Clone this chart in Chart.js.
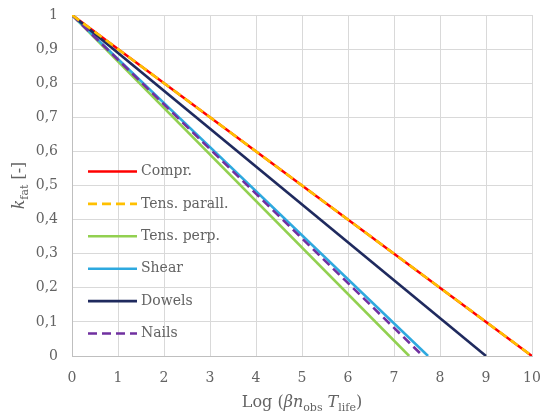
<!DOCTYPE html>
<html><head><meta charset="utf-8">
<script src="https://cdn.jsdelivr.net/npm/chart.js@4.4.0/dist/chart.umd.min.js"></script>
<style>html,body{margin:0;padding:0;background:#fff}#wrap{width:544px;height:416px}</style>
</head><body><div id="wrap"><canvas id="c" width="544" height="416"></canvas></div>
<script>
const seriesNames = ['Compr.', 'Tens. parall.', 'Tens. perp.', 'Shear', 'Dowels', 'Nails'];
const comprX = [0, 10];     const comprY = [1, 0];
const tensParX = [0, 10];   const tensParY = [1, 0];
const tensPerpX = [0, 7.33]; const tensPerpY = [1, 0];
const shearX = [0, 7.74];   const shearY = [1, 0];
const dowelsX = [0, 9.0];   const dowelsY = [1, 0];
const nailsX = [0, 7.63];   const nailsY = [1, 0];
const xTicks = [0,1,2,3,4,5,6,7,8,9,10];
const yTicks = [0,0.1,0.2,0.3,0.4,0.5,0.6,0.7,0.8,0.9,1];

const colors = ['#FF0000', '#FFC000', '#92D050', '#2EA9DF', '#1F2A5E', '#7030A0'];
const dashes = [[], [9,5], [], [], [], [9,5]];
const xs = [comprX, tensParX, tensPerpX, shearX, dowelsX, nailsX];
const ys = [comprY, tensParY, tensPerpY, shearY, dowelsY, nailsY];
const order = [0,2,3,4,5,1];

const FONT = 'DejaVu Serif';
const GRAY = '#636363';

const datasets = seriesNames.map((n, i) => ({
  label: n,
  data: xs[i].map((x, k) => ({x: x, y: ys[i][k]})),
  borderColor: colors[i],
  backgroundColor: colors[i],
  borderWidth: 2.6,
  borderDash: dashes[i],
  showLine: true,
  pointRadius: 0,
  order: -order.indexOf(i),
  borderCapStyle: 'butt'
}));

const drawSub = (ctx, parts, x, y, align) => {
  const size = 16, subSize = 11;
  let w = 0;
  parts.forEach(p => {
    ctx.font = (p.italic ? 'italic ' : '') + (p.sub ? subSize : size) + 'px ' + FONT;
    p.w = ctx.measureText(p.t).width; w += p.w;
  });
  let cx = align === 'center' ? x - w / 2 : x;
  parts.forEach(p => {
    ctx.font = (p.italic ? 'italic ' : '') + (p.sub ? subSize : size) + 'px ' + FONT;
    ctx.fillText(p.t, cx, y + (p.sub ? 4 : 0));
    cx += p.w;
  });
};

const customPlugin = {
  id: 'custom',
  afterDraw(chart) {
    const ctx = chart.ctx;
    const ca = chart.chartArea;
    ctx.save();
    ctx.fillStyle = GRAY;
    ctx.textBaseline = 'alphabetic';
    ctx.textAlign = 'left';
    drawSub(ctx, [
      {t: 'Log ('}, {t: 'βn', italic: true}, {t: 'obs', sub: true}, {t: ' '},
      {t: 'T', italic: true}, {t: 'life', sub: true}, {t: ')'}
    ], (ca.left + ca.right) / 2, 407, 'center');
    ctx.translate(24, (ca.top + ca.bottom) / 2);
    ctx.rotate(-Math.PI / 2);
    drawSub(ctx, [{t: 'k', italic: true}, {t: 'fat', sub: true}, {t: ' [-]'}], 0, 0, 'center');
    ctx.restore();
    ctx.save();
    const x0 = 88, x1 = 137, tx = 141;
    let y = 171.5;
    seriesNames.forEach((n, i) => {
      ctx.beginPath();
      ctx.strokeStyle = colors[i];
      ctx.lineWidth = 2.6;
      ctx.setLineDash(dashes[i]);
      ctx.moveTo(x0, y); ctx.lineTo(x1, y); ctx.stroke();
      ctx.setLineDash([]);
      ctx.fillStyle = GRAY;
      ctx.font = '14px ' + FONT;
      ctx.textBaseline = 'middle';
      ctx.fillText(n, tx, y);
      y += 32.4;
    });
    ctx.restore();
  }
};

new Chart(document.getElementById('c'), {
  type: 'scatter',
  data: { datasets },
  options: {
    responsive: false,
    animation: false,
    layout: { padding: { top: 15, right: 12, left: 0, bottom: 0 } },
    plugins: { legend: { display: false }, tooltip: { enabled: false } },
    scales: {
      x: {
        type: 'linear', min: 0, max: 10,
        afterBuildTicks: s => { s.ticks = xTicks.map(v => ({value: v})); },
        afterFit: s => { s.height = 60; s.paddingLeft = 0; s.paddingRight = 0; },
        grid: { color: '#D9D9D9', lineWidth: 1, drawTicks: false },
        border: { color: '#BFBFBF', width: 1 },
        ticks: { color: GRAY, font: { family: FONT, size: 14 }, padding: 14, maxRotation: 0 }
      },
      y: {
        type: 'linear', min: 0, max: 1,
        afterBuildTicks: s => { s.ticks = yTicks.map(v => ({value: v})); },
        afterFit: s => { s.width = 72; s.paddingTop = 0; s.paddingBottom = 0; },
        grid: { color: '#D9D9D9', lineWidth: 1, drawTicks: false },
        border: { color: '#BFBFBF', width: 1 },
        ticks: { color: GRAY, font: { family: FONT, size: 14 }, padding: 14,
          callback: v => (Math.round(v * 10) / 10).toString().replace('.', ',') }
      }
    }
  },
  plugins: [customPlugin]
});
</script></body></html>
